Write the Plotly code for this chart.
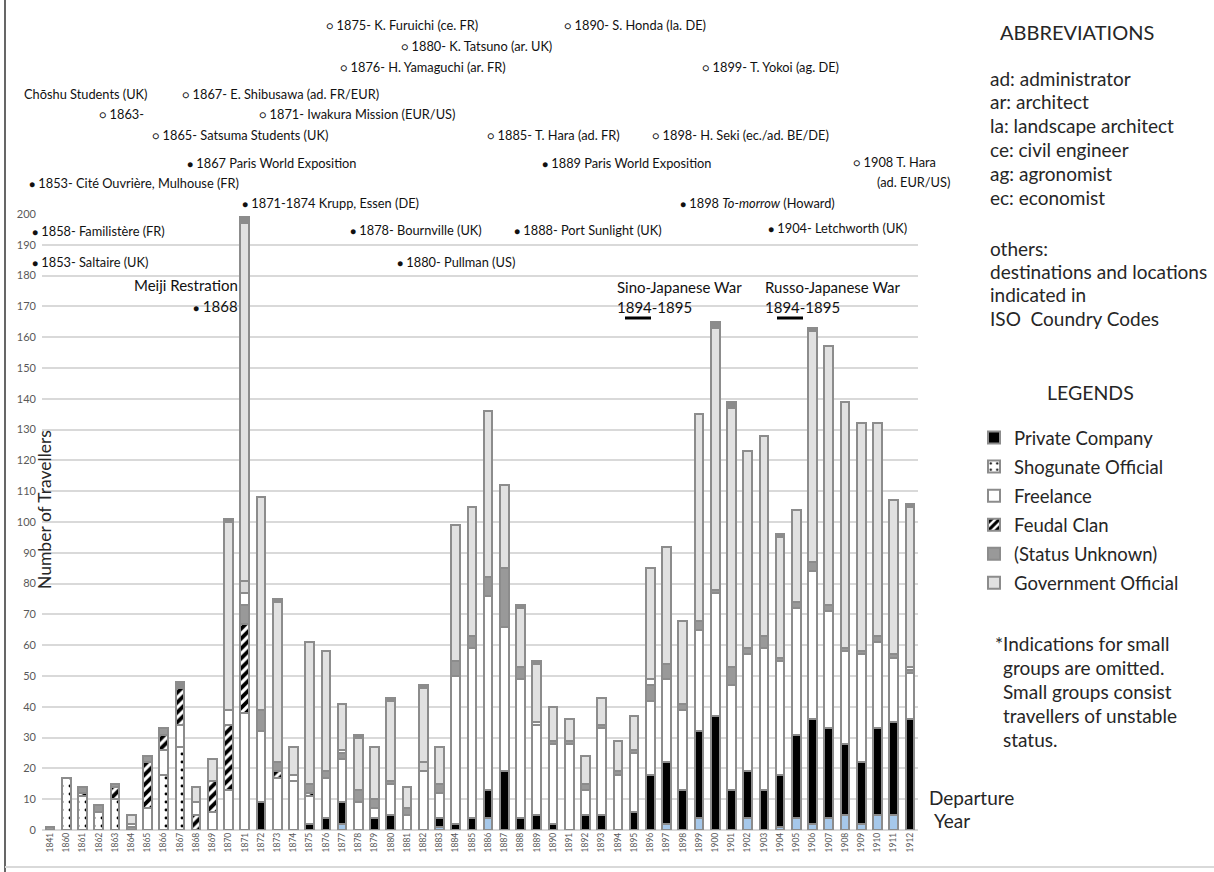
import plotly.graph_objects as go

# ---------------- data ----------------
years = ["1841", "1860", "1861", "1862", "1863", "1864", "1865", "1866", "1867", "1868",
         "1869", "1870", "1871", "1872", "1873", "1874", "1875", "1876", "1877", "1878",
         "1879", "1880", "1881", "1882", "1883", "1884", "1885", "1886", "1887", "1888",
         "1889", "1890", "1891", "1892", "1893", "1894", "1895", "1896", "1897", "1898",
         "1899", "1900", "1901", "1902", "1903", "1904", "1905", "1906", "1907", "1908",
         "1909", "1910", "1911", "1912"]

small_group_blue = [0, 0, 0, 0, 0, 0, 0, 0, 0, 0,
                    0, 0, 0, 0, 0, 0, 0, 0, 2, 0,
                    0, 0, 0, 0, 1, 0, 0, 4, 0, 0,
                    0, 0, 0, 0, 0, 0, 0, 0, 2, 0,
                    4, 0, 0, 4, 0, 1, 4, 2, 4, 5,
                    2, 5, 5, 0]
private_company = [0, 0, 0, 0, 0, 0, 0, 0, 0, 0,
                   0, 0, 0, 9, 0, 0, 2, 4, 7, 0,
                   4, 5, 0, 0, 3, 2, 4, 9, 19, 4,
                   5, 2, 0, 5, 5, 0, 6, 18, 20, 13,
                   28, 37, 13, 15, 13, 17, 27, 34, 29, 23,
                   20, 28, 30, 36]
shogunate_official = [0, 17, 11, 6, 10, 0, 0, 18, 27, 0,
                      0, 0, 0, 0, 0, 0, 0, 0, 0, 0,
                      0, 0, 0, 0, 0, 0, 0, 0, 0, 0,
                      0, 0, 0, 0, 0, 0, 0, 0, 0, 0,
                      0, 0, 0, 0, 0, 0, 0, 0, 0, 0,
                      0, 0, 0, 0]
freelance = [0, 0, 0, 0, 0, 0, 7, 8, 7, 0,
             6, 13, 38, 23, 17, 16, 9, 13, 14, 9,
             3, 10, 5, 19, 8, 48, 55, 63, 47, 45,
             29, 26, 28, 8, 28, 18, 19, 24, 27, 26,
             33, 40, 34, 38, 46, 37, 41, 48, 38, 30,
             35, 28, 21, 15]
feudal_clan = [0, 0, 1, 0, 4, 0, 15, 5, 12, 5,
               10, 21, 29, 0, 2, 0, 1, 0, 0, 0,
               0, 0, 0, 0, 0, 0, 0, 0, 0, 0,
               0, 0, 0, 0, 0, 0, 0, 0, 0, 0,
               0, 0, 0, 0, 0, 0, 0, 0, 0, 0,
               0, 0, 0, 0]
status_unknown = [1, 0, 2, 2, 1, 1, 2, 2, 0, 0,
                  0, 0, 6, 7, 3, 0, 3, 2, 2, 4,
                  3, 1, 2, 0, 3, 5, 4, 6, 19, 4,
                  0, 1, 1, 2, 1, 1, 1, 5, 5, 2,
                  3, 1, 6, 2, 4, 1, 2, 3, 2, 1,
                  1, 2, 1, 1]
small_group_white = [0, 0, 0, 0, 0, 1, 0, 0, 0, 4,
                     0, 5, 4, 0, 0, 2, 0, 0, 1, 0,
                     0, 0, 0, 0, 0, 0, 0, 0, 0, 0,
                     1, 0, 0, 0, 0, 0, 0, 2, 0, 0,
                     0, 0, 0, 0, 0, 0, 0, 0, 0, 0,
                     0, 0, 0, 1]
small_group_grey = [0, 0, 0, 0, 0, 0, 0, 0, 0, 0,
                    0, 0, 4, 0, 0, 0, 0, 0, 0, 0,
                    0, 0, 0, 3, 0, 0, 0, 0, 0, 0,
                    0, 0, 0, 0, 0, 0, 0, 0, 0, 0,
                    0, 0, 0, 0, 0, 0, 0, 0, 0, 0,
                    0, 0, 0, 0]
government_official = [0, 0, 0, 0, 0, 3, 0, 0, 0, 5,
                       7, 61, 116, 69, 52, 9, 46, 39, 15, 17,
                       17, 26, 7, 24, 12, 44, 42, 54, 27, 19,
                       19, 11, 7, 9, 9, 10, 11, 36, 38, 27,
                       67, 85, 84, 64, 65, 39, 30, 75, 84, 80,
                       74, 69, 50, 52]
small_group_cap = [0, 0, 0, 0, 0, 0, 0, 0, 2, 0,
                   0, 1, 2, 0, 1, 0, 0, 0, 0, 1,
                   0, 1, 0, 1, 0, 0, 0, 0, 0, 1,
                   1, 0, 0, 0, 0, 0, 0, 0, 0, 0,
                   0, 2, 2, 0, 0, 1, 0, 1, 0, 0,
                   0, 0, 0, 1]

# ---------------- geometry helpers (pixel -> paper) ----------------
W, H = 1214, 872
L, R, T, B = 42, 918, 214, 830


def px(x):
    return (x - L) / (R - L)


def py(y):
    return (B - y) / (B - T)


FONT = "Lato, 'Open Sans', sans-serif"
EDGE = "#8c8c8c"


def clean(v):
    return [None if a == 0 else a for a in v]


series = [
    # name, values, fill, pattern, legend
    ("Small groups (a)", small_group_blue, "#a6c8ea", None, False),
    ("Private Company", private_company, "#000000", None, True),
    ("Shogunate Official", shogunate_official, "#ffffff",
     dict(shape=".", fgcolor="#000000", bgcolor="#ffffff", size=8, solidity=0.1,
          fillmode="overlay", fgopacity=1), True),
    ("Freelance", freelance, "#ffffff", None, True),
    ("Feudal Clan", feudal_clan, "#ffffff",
     dict(shape="/", fgcolor="#000000", bgcolor="#ffffff", size=7, solidity=0.55,
          fillmode="overlay", fgopacity=1), True),
    ("(Status Unknown)", status_unknown, "#999999", None, True),
    ("Small groups (b)", small_group_white, "#ffffff", None, False),
    ("Small groups (c)", small_group_grey, "#d9d9d9", None, False),
    ("Government Official", government_official, "#e1e1e1", None, True),
    ("Small groups (d)", small_group_cap, "#8c8c8c", None, False),
]

fig = go.Figure()
for i, (name, vals, color, pat, show) in enumerate(series):
    marker = dict(color=color, line=dict(color=EDGE, width=2))
    if pat:
        marker["pattern"] = pat
    fig.add_trace(go.Bar(
        x=years, y=clean(vals), name=name, marker=marker,
        showlegend=show, legendgroup=name, hoverinfo="x+y+name",
    ))

annotations = []


def note(text, x, y, size=12.8, anchor="left", yanchor="middle", color="#111111", angle=0):
    annotations.append(dict(
        text=text, x=px(x), y=py(y), xref="paper", yref="paper",
        xanchor=anchor, yanchor=yanchor, showarrow=False, textangle=angle,
        font=dict(family=FONT, size=size, color=color),
    ))


OC = "<span style='font-size:11px'>○</span>"
BL = "<span style='font-size:10px'>●</span>"

top_notes = [
    (OC + " 1875- K. Furuichi (ce. FR)", 324, 25),
    (OC + " 1890- S. Honda (la. DE)", 562, 25),
    (OC + " 1880- K. Tatsuno (ar. UK)", 399, 46),
    (OC + " 1876- H. Yamaguchi (ar. FR)", 338, 67),
    (OC + " 1899- T. Yokoi (ag. DE)", 700, 67),
    ("Chōshu Students (UK)", 22, 94),
    (OC + " 1867- E. Shibusawa (ad. FR/EUR)", 180, 94),
    (OC + " 1863-", 97, 114),
    (OC + " 1871- Iwakura Mission (EUR/US)", 257, 114),
    (OC + " 1865- Satsuma Students (UK)", 150, 135),
    (OC + " 1885- T. Hara (ad. FR)", 485, 135),
    (OC + " 1898- H. Seki (ec./ad. BE/DE)", 650, 135),
    (BL + " 1867 Paris World Exposition", 185, 163),
    (BL + " 1889 Paris World Exposition", 540, 163),
    (OC + " 1908 T. Hara", 851, 162),
    (BL + " 1853- Cité Ouvrière, Mulhouse (FR)", 27, 183),
    (BL + " 1871-1874 Krupp, Essen (DE)", 240, 203),
    (BL + " 1898 <i>To-morrow</i> (Howard)", 678, 203),
    (BL + " 1858- Familistère (FR)", 30, 231),
    (BL + " 1878- Bournville (UK)", 348, 230),
    (BL + " 1888- Port Sunlight (UK)", 512, 230),
    (BL + " 1904- Letchworth (UK)", 766, 228),
    (BL + " 1853- Saltaire (UK)", 30, 262),
    (BL + " 1880- Pullman (US)", 395, 262),
]
for t, x, y in top_notes:
    note(t, x, y)
note("(ad. EUR/US)", 952, 182, anchor="right")
note("Meiji Restration", 240, 285, size=15, anchor="right")
note(BL + " 1868", 240, 306, size=15, anchor="right")

# wars
note("Sino-Japanese War", 615, 287, size=15)
note("1894-1895", 615, 307, size=15)
note("Russo-Japanese War", 763, 287, size=15)
note("1894-1895", 763, 307, size=15)

# axis title
note("Number of Travellers", 44, 510, size=17.5, anchor="center", color="#262626", angle=-90)

# right panel
RIGHT_SIZE = 19
note("ABBREVIATIONS", 1077, 32, size=20, anchor="center", color="#262626")
abbr = ["ad: administrator", "ar: architect", "la: landscape architect",
        "ce: civil engineer", "ag: agronomist", "ec: economist"]
for i, t in enumerate(abbr):
    note(t, 988, 78 + 23.8 * i, size=RIGHT_SIZE, color="#262626")
others = ["others:", "destinations and locations", "indicated in", "ISO  Coundry Codes"]
for i, t in enumerate(others):
    note(t, 988, 248 + 23.4 * i, size=RIGHT_SIZE, color="#262626")
note("LEGENDS", 1090, 392, size=19.5, anchor="center", color="#262626")
foot = [("*Indications for small", 993), ("groups are omitted.", 1001),
        ("Small groups consist", 1001), ("travellers of unstable", 1001), ("status.", 1001)]
for i, (t, x) in enumerate(foot):
    note(t, x, 643 + 24.2 * i, size=19, color="#262626")
note("Departure", 927, 797, size=19, color="#262626")
note("Year", 932, 820, size=19, color="#262626")

shapes = [
    # war underlines
    dict(type="line", xref="paper", yref="paper", x0=px(625), x1=px(651), y0=py(318), y1=py(318),
         line=dict(color="#000000", width=3)),
    dict(type="line", xref="paper", yref="paper", x0=px(777), x1=px(803), y0=py(318), y1=py(318),
         line=dict(color="#000000", width=3)),
    # frame
    dict(type="line", xref="paper", yref="paper", x0=px(5), x1=px(5), y0=py(0), y1=py(872),
         line=dict(color="#000000", width=1.2)),
    dict(type="line", xref="paper", yref="paper", x0=px(5), x1=px(1214), y0=py(867), y1=py(867),
         line=dict(color="#d9d9d9", width=2)),
]

fig.update_layout(
    width=W, height=H,
    margin=dict(l=L, r=W - R, t=T, b=H - B, pad=0),
    barmode="stack", bargap=0.46,
    paper_bgcolor="white", plot_bgcolor="white",
    font=dict(family=FONT, color="#262626"),
    annotations=annotations, shapes=shapes,
    showlegend=True,
    legend=dict(
        x=px(974), y=py(419), xanchor="left", yanchor="top",
        traceorder="grouped", tracegroupgap=2,
        font=dict(family=FONT, size=18.5, color="#262626"),
        bgcolor="rgba(0,0,0,0)", itemclick=False, itemdoubleclick=False,
    ),
    xaxis=dict(
        type="category", tickangle=-90, tickfont=dict(family=FONT, size=8.5, color="#595959"),
        showgrid=False, showline=False, ticks="", zeroline=False,
    ),
    yaxis=dict(
        range=[0, 200], dtick=10, tickfont=dict(family=FONT, size=11, color="#595959"),
        showgrid=True, gridcolor="#d9d9d9", gridwidth=1.5, zeroline=True,
        zerolinecolor="#d9d9d9", zerolinewidth=1.5, showline=False, ticks="",
        ticklabelstandoff=5,
    ),
)

fig.write_html("out.html", config={"displayModeBar": False},
               post_script="document.body.style.margin='0px';document.body.style.overflow='hidden';")
